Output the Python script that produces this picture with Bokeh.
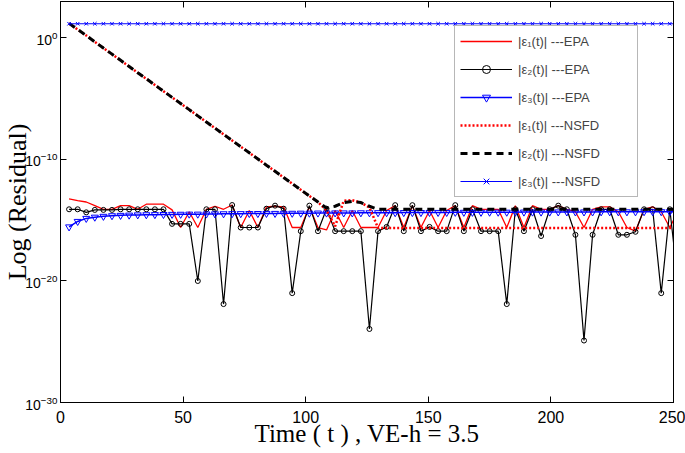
from bokeh.plotting import figure
from bokeh.models import (Range1d, FixedTicker, LogTickFormatter, LinearAxis,
                          Legend, LegendItem)
from bokeh.embed import file_html
from bokeh.resources import INLINE

# ---- data (time step VE-h = 3.5) ----
t = [3.5, 7.0, 10.5, 14.0, 17.5, 21.0, 24.5, 28.0, 31.5, 35.0, 38.5, 42.0, 45.5, 49.0,
     52.5, 56.0, 59.5, 63.0, 66.5, 70.0, 73.5, 77.0, 80.5, 84.0, 87.5, 91.0, 94.5, 98.0,
     101.5, 105.0, 108.5, 112.0, 115.5, 119.0, 122.5, 126.0, 129.5, 133.0, 136.5, 140.0,
     143.5, 147.0, 150.5, 154.0, 157.5, 161.0, 164.5, 168.0, 171.5, 175.0, 178.5, 182.0,
     185.5, 189.0, 192.5, 196.0, 199.5, 203.0, 206.5, 210.0, 213.5, 217.0, 220.5, 224.0,
     227.5, 231.0, 234.5, 238.0, 241.5, 245.0, 248.5, 252.0]

# log10 of residuals
eps1_epa = [-13.25, -13.38, -13.5, -13.8, -14.1, -14.1, -13.8, -13.8, -14.1, -13.68,
            -13.68, -13.68, -14.15, -15.6, -14.3, -15.6, -14.1, -13.85, -14.1, -13.75,
            -15.6, -14.2, -15.6, -13.9, -13.85, -13.9, -15.6, -15.6, -13.9, -15.6,
            -15.8, -14.2, -15.6, -14.2, -15.6, -15.6, -15.6, -14.2, -13.8, -15.6,
            -13.8, -15.6, -14.2, -15.6, -14.2, -13.8, -15.6, -13.8, -14.1, -14.1,
            -14.1, -15.6, -13.8, -15.6, -13.8, -14.1, -14.1, -13.8, -14.1, -14.3,
            -15.6, -14.1, -13.9, -13.9, -14.3, -15.6, -15.9, -14.1, -13.9, -14.3,
            -15.6, -14.2]
eps2_epa = [-14.1, -14.1, -14.35, -14.15, -14.15, -14.15, -14.1, -14.1, -14.1, -14.1,
            -14.1, -14.1, -15.3, -15.3, -15.3, -20.0, -14.1, -14.1, -21.9, -13.75,
            -15.6, -15.6, -15.6, -14.05, -13.8, -14.05, -21.0, -15.9, -13.8, -15.9,
            -14.05, -15.9, -15.9, -15.9, -15.9, -23.95, -15.9, -15.55, -13.76, -15.9,
            -13.76, -15.9, -15.55, -15.9, -15.9, -13.76, -15.9, -14.1, -15.9, -15.9,
            -15.9, -21.9, -14.1, -15.9, -14.1, -16.3, -14.1, -13.8, -14.1, -16.2,
            -24.9, -16.2, -14.1, -14.1, -16.2, -16.2, -15.95, -14.1, -14.1, -21.0,
            -14.1, -20.4]
eps3_epa = [-15.55, -15.1, -14.85, -14.75, -14.68, -14.63, -14.6, -14.58, -14.56, -14.55,
            -14.54, -14.53, -14.52, -14.51, -14.5, -14.5, -14.49, -14.48, -14.47, -14.46,
            -14.46, -14.45, -14.45, -14.44, -14.44, -14.43, -14.43, -14.42, -14.42, -14.41,
            -14.41, -14.4, -14.4, -14.4, -14.39, -14.39, -14.38, -14.38, -14.38, -14.37,
            -14.37, -14.37, -14.36, -14.36, -14.36, -14.35, -14.35, -14.35, -14.35, -14.34,
            -14.34, -14.34, -14.34, -14.33, -14.33, -14.33, -14.33, -14.32, -14.32, -14.32,
            -14.32, -14.32, -14.31, -14.31, -14.31, -14.31, -14.31, -14.3, -14.3, -14.3,
            -14.3, -14.3]
eps1_nsfd = [1.2, 0.7, 0.2, -0.32, -0.83, -1.33, -1.84, -2.35, -2.86, -3.36,
             -3.87, -4.38, -4.89, -5.39, -5.9, -6.41, -6.92, -7.42, -7.93, -8.44,
             -8.95, -9.45, -9.96, -10.47, -10.97, -11.48, -11.99, -12.5, -13.0, -13.5,
             -14.2, -15.5, -13.4, -13.35, -13.55, -13.95, -15.63, -15.63, -15.63, -15.63,
             -15.63, -15.63, -15.63, -15.63, -15.63, -15.63, -15.63, -15.63, -15.63, -15.63,
             -15.63, -15.63, -15.63, -15.63, -15.63, -15.63, -15.63, -15.63, -15.63, -15.63,
             -15.63, -15.63, -15.63, -15.63, -15.63, -15.63, -15.63, -15.63, -15.63, -15.63,
             -15.63, -15.63]
eps2_nsfd = [1.2, 0.7, 0.2, -0.32, -0.83, -1.33, -1.84, -2.35, -2.86, -3.36,
             -3.87, -4.38, -4.89, -5.39, -5.9, -6.41, -6.92, -7.42, -7.93, -8.44,
             -8.95, -9.45, -9.96, -10.47, -10.97, -11.48, -11.99, -12.5, -13.0, -13.5,
             -14.0, -13.85, -13.55, -13.45, -13.55, -13.85, -14.1, -14.1, -14.1, -14.1,
             -14.1, -14.1, -14.1, -14.1, -14.1, -14.1, -14.1, -14.1, -14.1, -14.1,
             -14.1, -14.1, -14.1, -14.1, -14.1, -14.1, -14.1, -14.1, -14.1, -14.1,
             -14.1, -14.1, -14.1, -14.1, -14.1, -14.1, -14.1, -14.1, -14.1, -14.1,
             -14.1, -14.1]
eps3_nsfd = [1.17] * 72

x_ticks = [0, 50, 100, 150, 200, 250]
y_ticks = [1e-30, 1e-20, 1e-10, 1e0]

labels = ["|\u03b5\u2081(t)| ---EPA", "|\u03b5\u2082(t)| ---EPA", "|\u03b5\u2083(t)| ---EPA",
          "|\u03b5\u2081(t)| ---NSFD", "|\u03b5\u2082(t)| ---NSFD", "|\u03b5\u2083(t)| ---NSFD"]
x_title = "Time ( t ) , VE-h = 3.5"
y_title = "Log (Residual)"

def pw(v):
    return [10.0 ** a for a in v]

SANS = "Liberation Sans"
SERIF = "Liberation Serif"

p = figure(width=685, height=453, x_range=Range1d(0, 250), y_range=Range1d(1e-30, 1e3),
           y_axis_type="log", output_backend="svg", toolbar_location=None,
           min_border_left=60, min_border_right=12, min_border_top=1, min_border_bottom=51)
p.grid.visible = False
p.outline_line_color = "black"
p.outline_line_width = 1
p.background_fill_color = "white"
p.border_fill_color = "white"

# axes
xa = p.xaxis[0]
xa.ticker = FixedTicker(ticks=x_ticks)
ya = p.yaxis[0]
ya.ticker = FixedTicker(ticks=y_ticks)
ya.formatter = LogTickFormatter()
for ax in (xa, ya):
    ax.major_tick_in = 6
    ax.major_tick_out = 0
    ax.minor_tick_line_color = None
    ax.axis_line_color = "black"
    ax.major_tick_line_color = "black"
    ax.major_label_text_font = SANS
    ax.major_label_text_color = "black"
    ax.axis_label_text_font = SERIF
    ax.axis_label_text_font_style = "normal"
    ax.axis_label_text_color = "black"
xa.major_label_text_font_size = "16px"
xa.major_label_standoff = 8
xa.axis_label = x_title
xa.axis_label_text_font_size = "25px"
xa.axis_label_standoff = -6
ya.major_label_text_font_size = "14px"
ya.major_label_standoff = 3
ya.axis_label = y_title
ya.axis_label_text_font_size = "26px"
ya.axis_label_standoff = -10

# mirrored tick marks on top and right (labels not drawn)
top_ax = LinearAxis(ticker=FixedTicker(ticks=x_ticks), major_tick_in=6, major_tick_out=0,
                    minor_tick_line_color=None, major_label_text_font_size="1px",
                    major_label_text_color=None, major_label_standoff=0,
                    axis_line_color="black")
p.add_layout(top_ax, "above")
right_ax = LinearAxis(ticker=FixedTicker(ticks=y_ticks), major_tick_in=6, major_tick_out=0,
                      minor_tick_line_color=None, major_label_text_font_size="1px",
                      major_label_text_color=None, major_label_standoff=0,
                      axis_line_color="black")
p.add_layout(right_ax, "right")

# series
r1 = p.line(t, pw(eps1_epa), line_color="#ff0000", line_width=1.3)
r2 = p.line(t, pw(eps2_epa), line_color="black", line_width=1.2)
r2m = p.scatter(t, pw(eps2_epa), marker="circle", size=5, line_color="black",
                fill_color=None, line_width=1)
r3 = p.line(t, pw(eps3_epa), line_color="#0000ff", line_width=1.5)
r3m = p.scatter(t, pw(eps3_epa), marker="inverted_triangle", size=7, line_color="#0000ff",
                fill_color=None, line_width=1)
r4 = p.line(t, pw(eps1_nsfd), line_color="#ff0000", line_width=2.5, line_dash="2 2")
r5 = p.line(t, pw(eps2_nsfd), line_color="black", line_width=3, line_dash="7 5")
r6 = p.line(t, pw(eps3_nsfd), line_color="#0000ff", line_width=1.2)
r6m = p.scatter(t, pw(eps3_nsfd), marker="x", size=5, line_color="#0000ff", line_width=1)

legend = Legend(items=[
    LegendItem(label=labels[0], renderers=[r1]),
    LegendItem(label=labels[1], renderers=[r2, r2m]),
    LegendItem(label=labels[2], renderers=[r3, r3m]),
    LegendItem(label=labels[3], renderers=[r4]),
    LegendItem(label=labels[4], renderers=[r5]),
    LegendItem(label=labels[5], renderers=[r6, r6m]),
], location=(394, 205))
legend.label_text_font = SANS
legend.label_text_font_size = "13px"
legend.glyph_width = 52
legend.glyph_height = 20
legend.label_height = 20
legend.label_width = 114
legend.label_standoff = 6
legend.spacing = 8
legend.padding = 5
legend.margin = 0
legend.border_line_color = "#707070"
legend.border_line_width = 1
legend.background_fill_color = "white"
legend.background_fill_alpha = 1
p.add_layout(legend)

open("out.html", "w").write(file_html(p, INLINE))
